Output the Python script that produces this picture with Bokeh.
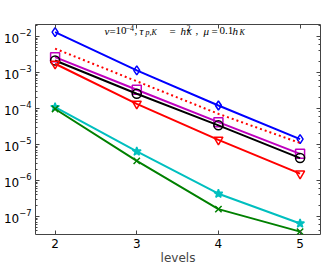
from bokeh.plotting import figure
from bokeh.models import LogAxis, LinearAxis, Label, FixedTicker, Range1d
from bokeh.embed import file_html
from bokeh.resources import INLINE

levels = [2, 3, 4, 5]
err_blue = [1.32e-2, 1.14e-3, 1.21e-4, 1.41e-5]
ref_dotted = [4.6e-3, 5.7e-4, 7.1e-5, 1.1e-5]
err_magenta = [2.66e-3, 3.31e-4, 4.17e-5, 5.5e-6]
err_black = [2.15e-3, 2.57e-4, 3.4e-5, 4.2e-6]
err_red = [1.75e-3, 1.35e-4, 1.35e-5, 1.55e-6]
err_cyan = [1.09e-4, 6.4e-6, 4.3e-7, 6.4e-8]
err_green = [9.7e-5, 3.5e-6, 1.6e-7, 3.8e-8]

X0, X1 = 1.76, 5.25
LY0, LY1 = -7.5, -1.667
FW, FH = 285, 210
p = figure(frame_width=FW, frame_height=FH, y_axis_type="log", output_backend="svg",
           toolbar_location=None, x_range=Range1d(X0, X1),
           y_range=Range1d(10**LY0, 10**LY1),
           min_border_left=29, min_border_right=8, min_border_top=24, min_border_bottom=35)
p.xgrid.visible = False
p.ygrid.visible = False
p.outline_line_color = "#444444"
p.outline_line_width = 1
p.background_fill_color = "white"
p.border_fill_color = "white"

def style_axis(ax, labels=True):
    ax.axis_line_color = None
    ax.major_tick_in = 4
    ax.major_tick_out = 0
    ax.minor_tick_in = 2
    ax.minor_tick_out = 0
    ax.major_tick_line_color = "#444444"
    ax.minor_tick_line_color = "#444444"
    ax.major_label_text_font = "DejaVu Sans"
    ax.major_label_text_font_size = "12px"
    ax.major_label_text_color = "black"
    ax.major_label_standoff = 4
    if not labels:
        ax.major_label_text_font_size = "0px"
        ax.major_label_text_alpha = 0
        ax.major_label_standoff = 0

p.xaxis.ticker = FixedTicker(ticks=levels)
style_axis(p.xaxis[0])
style_axis(p.yaxis[0])
p.xaxis.axis_label = "levels"
p.xaxis.axis_label_text_font = "DejaVu Sans"
p.xaxis.axis_label_text_font_size = "12px"
p.xaxis.axis_label_text_font_style = "normal"
p.xaxis.axis_label_standoff = 0

top = LinearAxis(ticker=FixedTicker(ticks=levels))
style_axis(top, labels=False)
p.add_layout(top, "above")
right = LogAxis()
style_axis(right, labels=False)
p.add_layout(right, "right")

def series(y, color, marker, fill=None):
    p.line(levels, y, line_color=color, line_width=2)
    p.scatter(levels, y, marker=marker, size=9, line_color=color, line_width=1.5,
              fill_color=fill)

series(err_blue, "#0000ff", "diamond")
p.line(levels, ref_dotted, line_color="#ff0000", line_width=2, line_dash="2 3")
series(err_magenta, "#bf00bf", "square")
series(err_black, "#000000", "circle")
series(err_red, "#ff0000", "inverted_triangle")
series(err_cyan, "#00bfbf", "star", fill="#00bfbf")
series(err_green, "#008000", "x")

# title pieces: x from frame left, y offset of baseline from main baseline
BASE = 204
pieces = [
    ("ν", 69, 0, 11, "italic"),
    ("=", 74, 0, 11, "normal"),
    ("10", 80, 0, 11, "normal"),
    ("−4", 90, 2.5, 8, "normal"),
    (",", 99, 0, 11, "normal"),
    ("τ", 104, 0, 11, "italic"),
    ("p,K", 110, -1.5, 8, "italic"),
    ("=", 134, 0, 11, "normal"),
    ("h", 145, 0, 11, "italic"),
    ("2", 151, 2.5, 8, "normal"),
    ("K", 151, -1.5, 8, "italic"),
    (",", 160, 0, 11, "normal"),
    ("μ", 168, 0, 11, "italic"),
    ("=", 176, 0, 11, "normal"),
    ("0.1", 184, 0, 11, "normal"),
    ("h", 197, 0, 11, "italic"),
    ("K", 204, -1.5, 8, "italic"),
]
for t, px, pu, s, st in pieces:
    p.add_layout(Label(x=px, y=BASE + pu, x_units="screen", y_units="screen", text=t,
                       text_font="Liberation Serif", text_font_size=f"{s}px",
                       text_font_style=st, text_color="black", text_baseline="alphabetic"))

open("out.html", "w").write(file_html(p, INLINE))
